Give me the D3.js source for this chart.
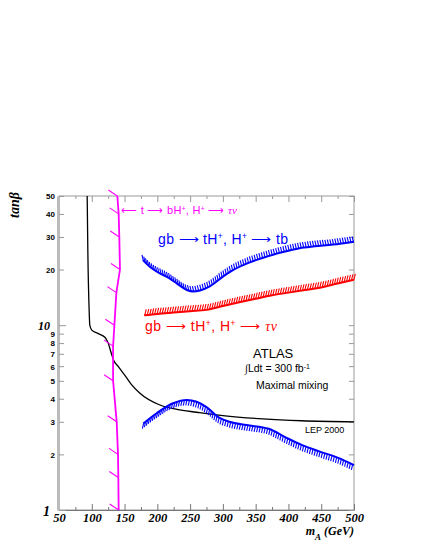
<!DOCTYPE html>
<html>
<head>
<meta charset="utf-8">
<script src="https://cdn.jsdelivr.net/npm/d3@7"></script>
<style>
  body { margin: 0; background: #fff; }
  svg { display: block; }
</style>
</head>
<body>
<div id="chart"></div>
<script>
// axis ticks
const xTickValues = [50, 100, 150, 200, 250, 300, 350, 400, 450, 500];
const xMinorTicks = [75, 125, 175, 225, 275, 325, 375, 425, 475];
const yTickValues = [1, 2, 3, 4, 5, 6, 7, 8, 9, 10, 20, 30, 40, 50];
const yBigLabels = [1, 10];

// curves, [m_A (GeV), tan beta]
const lepCurve = [[93, 50], [94, 25], [96, 12], [97, 10], [100, 9.4], [110, 9.0], [120, 8.6],
  [125, 8.0], [130, 7.0], [133, 6.5], [140, 6.0], [153, 5.2], [160, 4.8], [173, 4.3],
  [204, 3.7], [230, 3.5], [260, 3.38], [300, 3.24], [361, 3.11], [420, 3.04], [500, 3.0]];

const topQuarkLine = [[139, 50], [141, 40], [142, 30], [143, 20], [137.5, 15], [134.5, 10],
  [132.5, 7.7], [132.5, 5], [138, 3], [140, 2], [140.5, 1.5], [141, 1]];

const tbHigh = [[178, 22.5], [190, 20.5], [200, 19.4], [214, 18.3], [230, 16.8], [245, 15.5],
  [255, 15.2], [265, 15.4], [280, 16.2], [300, 18.3], [316, 19.9], [340, 21.8], [367, 23.5],
  [390, 24.8], [417, 26.1], [440, 26.7], [468, 27.3], [500, 28.3]];

const tauNu = [[180, 11.3], [200, 11.5], [225, 11.7], [250, 11.9], [275, 12.1], [300, 12.7],
  [325, 13.3], [350, 13.9], [375, 14.5], [400, 15.0], [425, 15.5], [450, 16.0], [475, 16.8],
  [500, 17.6]];

const tbLow = [[178.6, 2.94], [199, 3.34], [224, 3.78], [245, 3.94], [260, 3.85], [275, 3.6],
  [295, 3.15], [310, 3.0], [336, 2.88], [370, 2.75], [395, 2.48], [420, 2.25], [448, 2.07],
  [475, 1.92], [500, 1.75]];

const W = 425, H = 550;
const svg = d3.select("#chart").append("svg").attr("width", W).attr("height", H);

const x = d3.scaleLinear().domain([50, 500]).range([59, 354]);
const y = d3.scaleLog().domain([1, 50]).range([510, 196]);

const serif = "'Liberation Serif', 'DejaVu Serif', serif";
const sans = "'Liberation Sans', Arial, sans-serif";

// frame
svg.append("rect")
  .attr("x", x(50)).attr("y", y(50))
  .attr("width", x(500) - x(50)).attr("height", y(1) - y(50))
  .attr("fill", "none").attr("stroke", "#999").attr("stroke-width", 1);

// bottom axis
const xAxis = svg.append("g").attr("transform", `translate(0,${y(1)})`)
  .call(d3.axisBottom(x).tickValues(xTickValues).tickSize(-6).tickSizeOuter(0).tickFormat(d3.format("d")));
xAxis.select(".domain").attr("stroke", "#777");
xAxis.selectAll(".tick line").attr("stroke", "#777");
xAxis.selectAll("text")
  .attr("y", 12).attr("dy", null)
  .style("font-family", serif).style("font-weight", "bold").style("font-style", "italic")
  .style("font-size", "12.5px").attr("fill", "#000");

svg.append("g").attr("transform", `translate(0,${y(1)})`)
  .call(d3.axisBottom(x).tickValues(xMinorTicks).tickSize(-3).tickSizeOuter(0).tickFormat(""))
  .call(g => g.select(".domain").remove())
  .call(g => g.selectAll("line").attr("stroke", "#777"));

// top axis (mirror)
svg.append("g").attr("transform", `translate(0,${y(50)})`)
  .call(d3.axisTop(x).tickValues(xTickValues).tickSize(-6).tickSizeOuter(0).tickFormat(""))
  .call(g => g.select(".domain").remove())
  .call(g => g.selectAll("line").attr("stroke", "#999"));
svg.append("g").attr("transform", `translate(0,${y(50)})`)
  .call(d3.axisTop(x).tickValues(xMinorTicks).tickSize(-3).tickSizeOuter(0).tickFormat(""))
  .call(g => g.select(".domain").remove())
  .call(g => g.selectAll("line").attr("stroke", "#999"));

// left axis
const yAxis = svg.append("g").attr("transform", `translate(${x(50)},0)`)
  .call(d3.axisLeft(y).tickValues(yTickValues).tickSize(-5).tickSizeOuter(0).tickFormat(d3.format("d")));
yAxis.select(".domain").attr("stroke", "#bbb").attr("stroke-width", 3).attr("transform", "translate(-1,0)");
yAxis.selectAll(".tick line").attr("stroke", "#999")
  .attr("x2", d => yBigLabels.includes(d) ? 7 : 5);
yAxis.selectAll("text")
  .attr("x", d => yBigLabels.includes(d) ? -9 : -4)
  .attr("dy", "0.36em")
  .attr("fill", "#000")
  .style("font-family", d => yBigLabels.includes(d) ? serif : sans)
  .style("font-weight", "bold")
  .style("font-style", d => yBigLabels.includes(d) ? "italic" : "normal")
  .style("font-size", d => d === 1 ? "14px" : (d === 10 ? "12px" : "8px"));

// right axis (mirror)
svg.append("g").attr("transform", `translate(${x(500)},0)`)
  .call(d3.axisRight(y).tickValues(yTickValues).tickSize(-5).tickSizeOuter(0).tickFormat(""))
  .call(g => g.select(".domain").remove())
  .call(g => g.selectAll("line").attr("stroke", "#999"));

// axis titles
svg.append("text")
  .attr("transform", `translate(19,205) rotate(-90)`)
  .attr("text-anchor", "middle")
  .style("font-family", serif).style("font-style", "italic").style("font-weight", "bold")
  .style("font-size", "14px")
  .text("tanβ");

const xTitle = svg.append("text")
  .attr("x", 354).attr("y", 535).attr("text-anchor", "end")
  .style("font-family", serif).style("font-style", "italic").style("font-weight", "bold")
  .style("font-size", "12px");
xTitle.append("tspan").text("m");
xTitle.append("tspan").attr("dy", 5).style("font-size", "9px").text("A");
xTitle.append("tspan").attr("dy", -5).text(" (GeV)");

// curves
const smooth = d3.line().x(d => x(d[0])).y(d => y(d[1])).curve(d3.curveMonotoneX);
const straight = d3.line().x(d => x(d[0])).y(d => y(d[1]));

function hatchAlong(pathSel, spacing, dx, dy, color, width) {
  const node = pathSel.node();
  const len = node.getTotalLength();
  const pts = d3.range(0.5, len, spacing).map(s => node.getPointAtLength(s));
  svg.append("g").selectAll("line").data(pts).join("line")
    .attr("x1", p => p.x).attr("y1", p => p.y)
    .attr("x2", p => p.x + dx).attr("y2", p => p.y + dy)
    .attr("stroke", color).attr("stroke-width", width);
}

// LEP 2000
svg.append("path").datum(lepCurve)
  .attr("d", smooth).attr("fill", "none").attr("stroke", "#000").attr("stroke-width", 1.3);

// t -> bH+ line with sparse hatching
svg.append("path").datum(topQuarkLine)
  .attr("d", straight).attr("fill", "none").attr("stroke", "#ff00ff").attr("stroke-width", 1.8);
svg.append("g").selectAll("line").data(topQuarkLine).join("line")
  .attr("x1", d => x(d[0])).attr("y1", d => y(d[1]))
  .attr("x2", d => x(d[0]) - 9).attr("y2", d => y(d[1]) - 6)
  .attr("stroke", "#ff00ff").attr("stroke-width", 1.1);

// gb -> tH+, H+ -> tb (high tan beta)
const pHigh = svg.append("path").datum(tbHigh)
  .attr("d", smooth).attr("fill", "none").attr("stroke", "#0000ff").attr("stroke-width", 2);
hatchAlong(pHigh, 2.5, -1.3, -5.5, "#0000ff", 1.1);

// gb -> tH+, H+ -> tau nu
const pTau = svg.append("path").datum(tauNu)
  .attr("d", smooth).attr("fill", "none").attr("stroke", "#ff0000").attr("stroke-width", 2);
hatchAlong(pTau, 2.5, 1.5, -6, "#ff0000", 1.1);

// gb -> tH+, H+ -> tb (low tan beta)
const pLow = svg.append("path").datum(tbLow)
  .attr("d", smooth).attr("fill", "none").attr("stroke", "#0000ff").attr("stroke-width", 2);
hatchAlong(pLow, 2.5, -1.3, 5.5, "#0000ff", 1.1);

// labels
function reaction(xp, yp, size, color, parts, len) {
  const t = svg.append("text").attr("x", xp).attr("y", yp)
    .attr("fill", color).style("font-family", sans).style("font-size", size + "px");
  if (len) t.attr("textLength", len).attr("lengthAdjust", "spacing");
  parts.forEach(p => {
    const s = t.append("tspan").text(p.t);
    if (p.sup) s.attr("baseline-shift", "super").style("font-size", (size * 0.6) + "px");
    if (p.greek) s.style("font-family", serif).style("font-style", "italic");
  });
}

reaction(121, 213.5, 11, "#ff00ff", [
  { t: "⟵ t ⟶ bH" }, { t: "+", sup: true }, { t: ", H" }, { t: "+", sup: true },
  { t: " ⟶ " }, { t: "τν", greek: true }], 116);

reaction(158, 243.5, 14, "#0000ff", [
  { t: "gb ⟶ tH" }, { t: "+", sup: true }, { t: ", H" }, { t: "+", sup: true },
  { t: " ⟶ tb" }], 130);

reaction(145, 330.5, 14, "#ff0000", [
  { t: "gb ⟶ tH" }, { t: "+", sup: true }, { t: ", H" }, { t: "+", sup: true },
  { t: " ⟶ " }, { t: "τν", greek: true }], 132);

svg.append("text").attr("x", 253).attr("y", 358)
  .style("font-family", sans).style("font-size", "13px").text("ATLAS");

const lumi = svg.append("text").attr("x", 245).attr("y", 372)
  .style("font-family", sans).style("font-size", "10.5px");
lumi.append("tspan").style("font-family", serif).style("font-style", "italic").text("∫");
lumi.append("tspan").text("Ldt = 300 fb");
lumi.append("tspan").attr("baseline-shift", "super").style("font-size", "7px").text("-1");

svg.append("text").attr("x", 256).attr("y", 389)
  .style("font-family", sans).style("font-size", "10.5px").text("Maximal mixing");

svg.append("text").attr("x", 305).attr("y", 433)
  .style("font-family", sans).style("font-size", "9px").text("LEP 2000");
</script>
</body>
</html>
